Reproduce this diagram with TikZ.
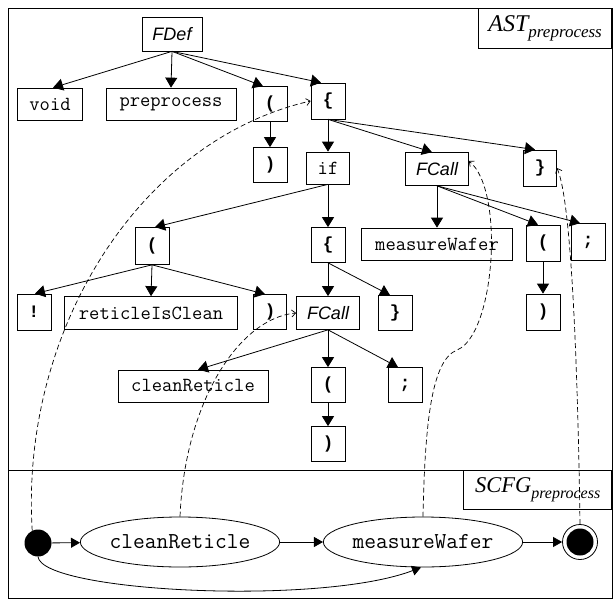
\documentclass[tikz,border=0pt]{standalone}
\usepackage{fontspec}
\setmainfont{Liberation Serif}
\newfontfamily\monof{Liberation Mono}
\newfontfamily\sansf{Liberation Sans}
\usetikzlibrary{arrows.meta,shapes.geometric}
\begin{document}
\begin{tikzpicture}[x=1pt,y=-1pt,
 tbox/.style={draw,line width=0.7pt,inner sep=0pt,minimum height=33pt},
 code/.style={tbox,font=\ttfamily\fontsize{20}{20}\selectfont},
 punct/.style={tbox,font=\monof\bfseries\fontsize{17.5}{18}\selectfont,minimum width=34pt,minimum height=35pt},
 ital/.style={tbox,font=\sansf\itshape\fontsize{18}{18}\selectfont},
 tree/.style={line width=0.8pt,-{Triangle[length=10pt,width=12pt]}},
 link/.style={line width=0.7pt,dash pattern=on 5pt off 3pt,-{Straight Barb[length=4pt,width=7pt]}},
 flow/.style={line width=0.8pt,-{Triangle[length=9pt,width=10pt]}},
 state/.style={draw,ellipse,line width=0.8pt,inner sep=0pt,font=\ttfamily\fontsize{22.8}{23}\selectfont},
 lbl/.style={draw,line width=0.7pt,inner sep=0pt,anchor=north east}
]
\useasboundingbox (0,0) rectangle (613,599);
\draw[line width=0.8pt] (8,8) rectangle (612,598);
\draw[line width=0.8pt] (8,470) -- (612,470);

\node[lbl,minimum width=133pt,minimum height=40pt] (astlbl) at (612,8)
 {\fontsize{24}{24}\selectfont\itshape AST\raisebox{-6pt}{\fontsize{17}{17}\selectfont preprocess}};
\node[lbl,minimum width=148pt,minimum height=39pt] (scfglbl) at (612,470)
 {\fontsize{22.5}{23}\selectfont\itshape SCFG\raisebox{-6pt}{\fontsize{16}{16}\selectfont preprocess}};

% AST nodes
\node[ital,minimum width=60pt,minimum height=34pt] (fdef) at (172,34) {FDef};
\node[code,minimum width=65pt,minimum height=32pt] (void) at (50,104) {void};
\node[code,minimum width=130pt,minimum height=32pt] (pre) at (171,104) {preprocess};
\node[punct] (lp1) at (270,104) {(};
\node[punct,minimum height=36pt] (lb1) at (328,101) {\{};
\node[punct] (rp1) at (270,165) {)};
\node[code,minimum width=43pt,minimum height=32pt] (if) at (328,168) {if};
\node[ital,minimum width=63pt] (fc1) at (437,169) {FCall};
\node[punct,minimum width=33pt,minimum height=36pt] (rb1) at (540,168) {\}};
\node[punct,minimum height=37pt] (lp2) at (152,246) {(};
\node[punct] (lb2) at (328,245) {\{};
\node[code,minimum width=151pt,minimum height=32pt] (mw) at (437,244) {measureWafer};
\node[punct,minimum height=36pt] (lp3) at (543,243) {(};
\node[punct,minimum height=37pt] (semi1) at (588,242) {;};
\node[punct,minimum height=36pt] (rp3) at (543,312) {)};
\node[punct,minimum height=36pt] (excl) at (34,312) {!};
\node[code,minimum width=173pt] (ric) at (151,313) {reticleIsClean};
\node[punct,minimum width=33pt] (rp2) at (270,312) {)};
\node[ital,minimum width=63pt] (fc2) at (328,313) {FCall};
\node[punct] (rb2) at (395,313) {\}};
\node[code,minimum width=150pt,minimum height=32pt] (cr) at (193,386) {cleanReticle};
\node[punct] (lp4) at (328,385) {(};
\node[punct] (semi2) at (405,385) {;};
\node[punct] (rp4) at (328,444) {)};

% AST edges
\draw[tree] (fdef.south) -- ([xshift=3pt]void.north);
\draw[tree] (fdef.south) -- (pre.north);
\draw[tree] (fdef.south) -- ([xshift=-7pt]lp1.north);
\draw[tree] (fdef.south) -- ([xshift=-7pt]lb1.north);
\draw[tree] (lp1.south) -- (rp1.north);
\draw[tree] (lb1.south) -- (if.north);
\draw[tree] (lb1.south) -- ([xshift=-5pt]fc1.north);
\draw[tree] (lb1.south) -- ([xshift=-5pt]rb1.north);
\draw[tree] (if.south) -- ([xshift=3pt]lp2.north);
\draw[tree] (if.south) -- (lb2.north);
\draw[tree] (lp2.south) -- ([xshift=1pt]excl.north);
\draw[tree] (lp2.south) -- (ric.north);
\draw[tree] (lp2.south) -- ([xshift=-5pt]rp2.north);
\draw[tree] (lb2.south) -- (fc2.north);
\draw[tree] (lb2.south) -- ([xshift=-5pt]rb2.north);
\draw[tree] (fc1.south) -- (mw.north);
\draw[tree] (fc1.south) -- ([xshift=-5pt]lp3.north);
\draw[tree] (fc1.south) -- ([xshift=-8pt]semi1.north);
\draw[tree] (lp3.south) -- (rp3.north);
\draw[tree] (fc2.south) -- ([xshift=5pt]cr.north);
\draw[tree] (fc2.south) -- (lp4.north);
\draw[tree] (fc2.south) -- ([xshift=-7pt]semi2.north);
\draw[tree] (lp4.south) -- (rp4.north);

% SCFG
\node[circle,fill,inner sep=0pt,minimum size=27pt] (start) at (38,543) {};
\node[state,minimum width=177pt,minimum height=50pt] (scr) at (180,542) {cleanReticle};
\node[state,minimum width=196pt,minimum height=50pt] (smw) at (423,542) {measureWafer};
\node[circle,draw,line width=0.8pt,inner sep=0pt,minimum size=35pt] (endo) at (580,542) {};
\node[circle,fill,inner sep=0pt,minimum size=27pt] (endi) at (580,542) {};

\draw[flow] (start) -- (scr);
\draw[flow] (scr) -- (smw);
\draw[flow] (smw) -- (endo);
\draw[flow] (start.south) .. controls (42,592) and (320,606) .. ([xshift=-2pt]smw.south);

% links
\draw[link] (start.115) .. controls (20,330) and (140,140) .. (lb1.west);
\draw[link] (scr.north) .. controls (185,400) and (240,318) .. (fc2.west);
\draw[link] (smw.north) .. controls (425,420) and (432,360) .. (457,350)
  .. controls (495,335) and (505,190) .. ([yshift=8pt]fc1.east);
\draw[link] (endo.north) .. controls (578,380) and (572,200) .. (rb1.east);
\end{tikzpicture}
\end{document}
